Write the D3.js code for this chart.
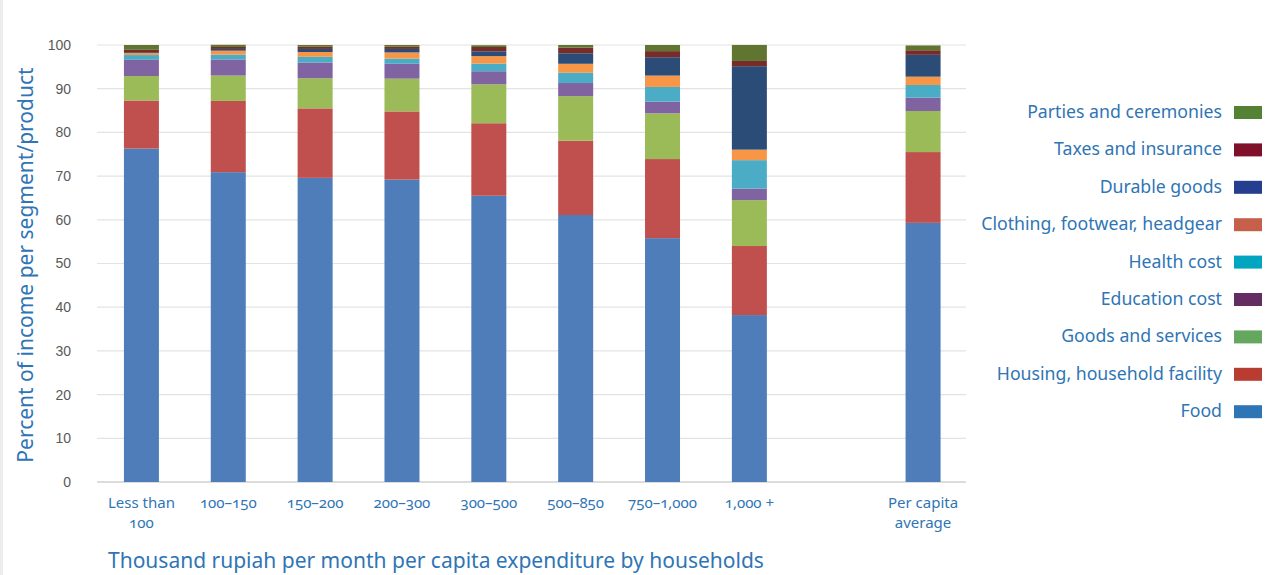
<!DOCTYPE html>
<html>
<head>
<meta charset="utf-8">
<script src="https://cdn.jsdelivr.net/npm/d3@7"></script>
<style>
  html, body { margin: 0; padding: 0; background: #fff; }
  svg { display: block; }
  .tick text { font-family: "Liberation Sans", Arial, sans-serif; }
  .blue { font-family: "Noto Sans", "Open Sans", sans-serif; font-variant-numeric: oldstyle-nums; font-feature-settings: "onum" 1; }
</style>
</head>
<body>
<svg id="chart" width="1277" height="575"></svg>
<script>
// Household expenditure groups (x-axis); an empty slot separates the average
const categories = ["Less than 100", "100–150", "150–200", "200–300", "300–500",
                    "500–850", "750–1,000", "1,000 +", "", "Per capita average"];

// Share of spending per item, stacked bottom to top
const food       = [76.3, 70.9, 69.6, 69.2, 65.5, 61.1, 55.8, 38.2, null, 59.3];
const housing    = [11.0, 16.3, 15.9, 15.6, 16.6, 17.0, 18.1, 15.8, null, 16.2];
const goods      = [5.6,  5.8,  6.9,  7.5,  8.9,  10.2, 10.45, 10.5, null, 9.4];
const education  = [3.7,  3.7,  3.6,  3.4,  3.0,  3.0,  2.7,  2.65, null, 3.05];
const health     = [1.1,  1.1,  1.3,  1.2,  1.75, 2.35, 3.35, 6.5,  null, 2.9];
const clothing   = [0.5,  0.9,  1.1,  1.4,  1.7,  2.05, 2.6,  2.4,  null, 1.9];
const durable    = [0.2,  0.4,  0.7,  0.8,  1.1,  2.4,  4.2,  19.1, null, 5.0];
const taxes      = [0.5,  0.45, 0.5,  0.5,  1.0,  1.3,  1.4,  1.2,  null, 1.05];
const parties    = [1.1,  0.5,  0.4,  0.4,  0.4,  0.6,  1.4,  3.66, null, 1.1];

const seriesNames = ["Food", "Housing, household facility", "Goods and services",
                     "Education cost", "Health cost", "Clothing, footwear, headgear",
                     "Durable goods", "Taxes and insurance", "Parties and ceremonies"];
const seriesValues = [food, housing, goods, education, health, clothing, durable, taxes, parties];
const barColors = ["#4F7DBA", "#C0504D", "#9BBB59", "#8064A2", "#4BACC6",
                   "#F79646", "#2B4C76", "#772C2A", "#5F7530"];
const legendColors = ["#2E75B6", "#B93C30", "#64A860", "#652C61", "#00A6C0",
                      "#C6604B", "#243F8F", "#7F0F2A", "#548235"];
const yTicks = [0, 10, 20, 30, 40, 50, 60, 70, 80, 90, 100];

const labelBlue = "#2F75B5";
const svg = d3.select("#chart");

// faint frame strip on the left edge
svg.append("rect").attr("x", 0).attr("y", 0).attr("width", 3).attr("height", 575).attr("fill", "#ededed");

const x = d3.scaleBand().domain(d3.range(categories.length)).range([98, 966.5]).paddingInner(0.597).paddingOuter(0.2985);
const y = d3.scaleLinear().domain([0, 100]).range([482, 45]);

// gridlines
svg.append("g").selectAll("line").data(yTicks).join("line")
  .attr("x1", 97).attr("x2", 966)
  .attr("y1", d => y(d)).attr("y2", d => y(d))
  .attr("stroke", d => d === 0 ? "#d0d0d0" : "#e3e3e3").attr("stroke-width", d => d === 0 ? 1.5 : 1.2);

// y axis labels
const yAxis = svg.append("g").attr("transform", "translate(74,0)")
  .call(d3.axisLeft(y).tickValues(yTicks).tickSize(0).tickPadding(3));
yAxis.select(".domain").remove();
yAxis.selectAll("text").attr("font-size", 14).attr("fill", "#595959");

// stacked bars
const rows = categories.map((c, i) => {
  const r = { i };
  seriesNames.forEach((s, k) => { r[s] = seriesValues[k][i] || 0; });
  return r;
}).filter(r => categories[r.i] !== "");
const stacked = d3.stack().keys(seriesNames)(rows);

svg.append("g").selectAll("g").data(stacked).join("g")
  .attr("fill", (d, k) => barColors[k])
  .selectAll("rect").data(d => d).join("rect")
  .attr("x", d => x(d.data.i))
  .attr("width", x.bandwidth())
  .attr("y", d => y(d[1]))
  .attr("height", d => y(d[0]) - y(d[1]));

// x category labels (two-line ones wrap onto a second row)
const xl = svg.append("g").attr("class", "blue");
categories.forEach((c, i) => {
  if (!c) return;
  const words = c === "Less than 100" ? ["Less than", "100"] :
                c === "Per capita average" ? ["Per capita", "average"] : [c];
  words.forEach((w, j) => xl.append("text")
    .attr("x", x(i) + x.bandwidth() / 2).attr("y", 507.5 + j * 20.5)
    .attr("text-anchor", "middle").attr("font-size", 15).attr("fill", labelBlue)
    .text(w));
});

// axis titles
svg.append("text").attr("class", "blue")
  .attr("x", 108).attr("y", 568).attr("font-size", 21).attr("fill", labelBlue)
  .text("Thousand rupiah per month per capita expenditure by households");
svg.append("text").attr("class", "blue")
  .attr("transform", "translate(33,265) rotate(-90)")
  .attr("text-anchor", "middle").attr("font-size", 21).attr("fill", labelBlue)
  .text("Percent of income per segment/product");

// legend, top item is the last series
const legend = svg.append("g").attr("class", "blue");
const order = d3.range(seriesNames.length).reverse();
order.forEach((k, j) => {
  const cy = 112 + j * 37.4;
  legend.append("text").attr("x", 1222).attr("y", cy + 6)
    .attr("text-anchor", "end").attr("font-size", 17.7).attr("fill", labelBlue)
    .text(seriesNames[k]);
  legend.append("rect").attr("x", 1234).attr("y", cy - 6).attr("width", 28).attr("height", 13)
    .attr("fill", legendColors[k]);
});
</script>
</body>
</html>
